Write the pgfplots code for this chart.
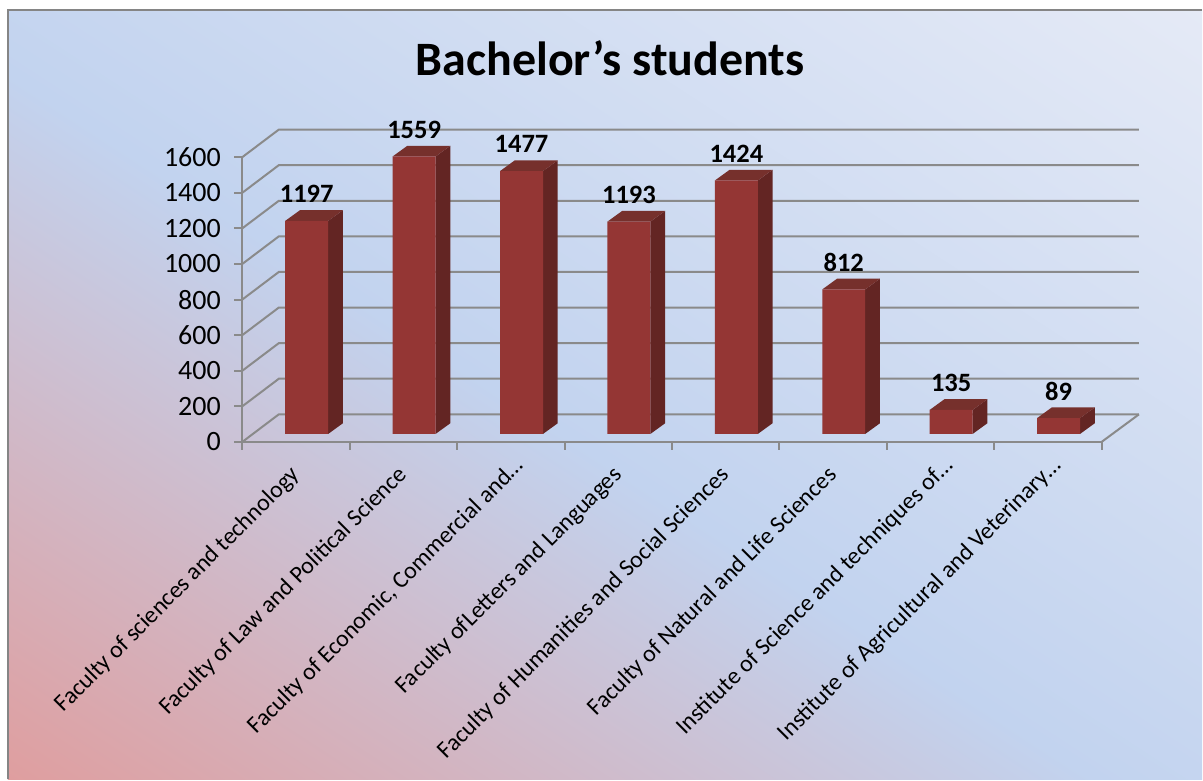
\documentclass[border=0pt]{standalone}
\usepackage{fontspec}
\setmainfont{Carlito}
\usepackage{pgfplots}
\pgfplotsset{compat=1.18}
\usepackage{pgfplotstable}
\definecolor{frontc}{HTML}{943634}
\definecolor{sidec}{HTML}{632523}
\definecolor{topc}{HTML}{76302C}
\definecolor{gridc}{HTML}{8A8A8A}
\definecolor{borderc}{HTML}{858585}
\definecolor{bgA}{HTML}{E09C9C}
\definecolor{bgB}{HTML}{C2D3EF}
\definecolor{bgC}{HTML}{E5EAF6}
\pgfdeclareverticalshading{bgshade}{100bp}{
  color(0bp)=(bgA); color(14bp)=(bgA); color(47bp)=(bgB); color(85bp)=(bgC); color(100bp)=(bgC)}
\pgfplotstableread{
idx value
0 1197
1 1559
2 1477
3 1193
4 1424
5 812
6 135
7 89
}\bardata
\newcommand{\gridlevel}[1]{%
  \pgfmathsetmacro\gy{#1+155}%
  \addplot[gridc, line width=2pt] coordinates {(-0.5,#1) (-0.16,\gy) (7.848,\gy)};%
}
\newcommand{\barfaces}[2]{%
  \pgfmathsetmacro\xa{#1-0.2}\pgfmathsetmacro\xb{#1+0.2}%
  \pgfmathsetmacro\xc{#1+0.337}\pgfmathsetmacro\xd{#1-0.063}%
  \pgfmathsetmacro\yt{#2+60}%
  \addplot[sidec, fill=sidec, draw=none, xshift=10.7pt, yshift=8pt] coordinates {(\xb,0) (\xc,60) (\xc,\yt) (\xb,#2)};%
  \addplot[topc, fill=topc, draw=none, xshift=10.7pt, yshift=8pt] coordinates {(\xa,#2) (\xb,#2) (\xc,\yt) (\xd,\yt)};%
}
\begin{document}
\begin{tikzpicture}[x=1pt,y=1pt]
\path (0,0) rectangle (1203,780);
\shade[shading=bgshade, shading angle=-33] (8,0) rectangle (1203,770);
\draw[borderc, line width=2pt] (8,0) -- (8,770) -- (1203,770);
\begin{axis}[
  at={(242.5pt,337.7pt)}, anchor=south west,
  scale only axis, width=860pt, height=285pt,
  clip=false,
  xmin=-0.5, xmax=7.5, ymin=0, ymax=1600,
  axis x line*=bottom, axis y line*=left,
  axis line style={gridc, line width=2pt, -},
  ytick={0,200,...,1600},
  xtick={0,...,7},
  xticklabels={Faculty of sciences and technology,
    Faculty of Law and Political Science,
    {Faculty of Economic, Commercial and…\hspace*{-13pt}},
    Faculty ofLetters and Languages,
    Faculty of Humanities and Social Sciences,
    Faculty of Natural and Life Sciences,
    {Institute of Science and techniques of…\hspace*{-13pt}},
    {Institute of Agricultural and Veterinary…\hspace*{-13pt}}},
  minor xtick={-0.5,0.5,...,7.5},
  major x tick style={draw=none},
  minor x tick style={gridc, line width=2pt},
  y tick style={gridc, line width=2pt},
  tick align=outside,
  major tick length=8pt, minor tick length=8pt,
  /pgf/number format/assume math mode=true,
  /pgf/number format/1000 sep={},
  y tick label style={font=\fontsize{28}{31}\selectfont, text=black, xshift=-10pt},
  x tick label style={font=\fontsize{23.9}{26}\selectfont, text=black, rotate=45, anchor=north east, inner sep=0pt, xshift=-15pt, yshift=-5pt},
  title={\textbf{Bachelor’s students}},
  title style={font=\fontsize{48}{52}\selectfont, at={(axis description cs:0.428,1.325)}, anchor=center},
]
\pgfplotsinvokeforeach{0,200,...,1600}{\gridlevel{#1}}
\addplot[gridc, line width=2pt] coordinates {(7.5,0) (7.848,155)};
\barfaces{0}{1197}
\barfaces{1}{1559}
\barfaces{2}{1477}
\barfaces{3}{1193}
\barfaces{4}{1424}
\barfaces{5}{812}
\barfaces{6}{135}
\barfaces{7}{89}
\addplot[ybar, bar width=43pt, bar shift=0pt, fill=frontc, draw=none,
  xshift=10.7pt, yshift=8pt,
  nodes near coords,
  nodes near coords style={font=\fontsize{26.5}{28}\selectfont\bfseries, text=black, anchor=center, yshift=27pt},
  point meta=explicit symbolic,
] table[x=idx, y=value, meta=value] {\bardata};
\end{axis}
\end{tikzpicture}
\end{document}
